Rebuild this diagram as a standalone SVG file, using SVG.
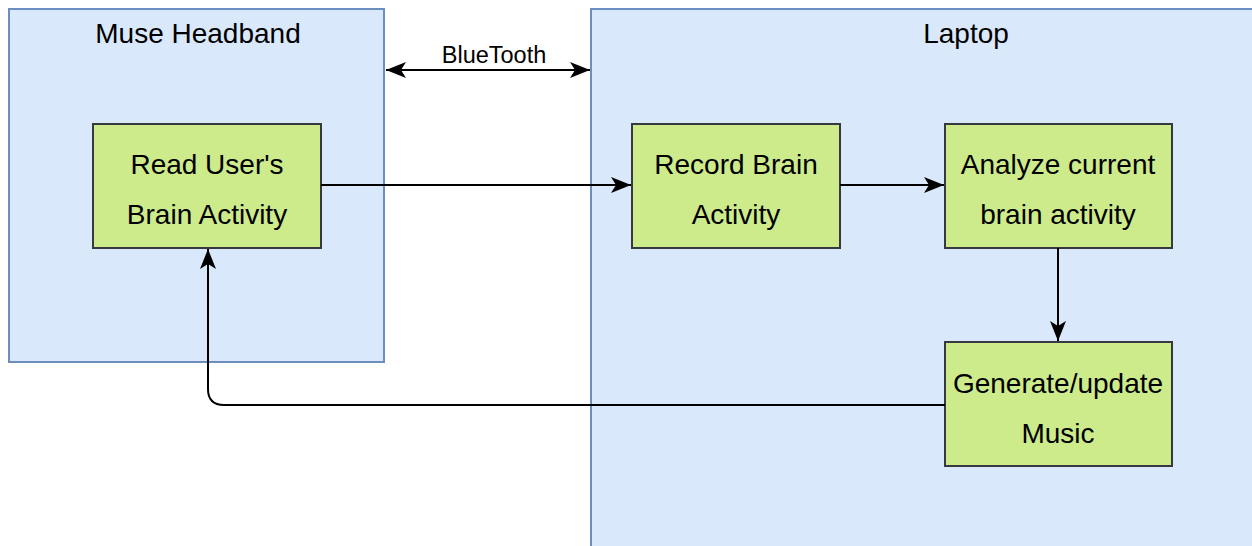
<svg xmlns="http://www.w3.org/2000/svg" width="1252" height="546" viewBox="0 0 1252 546">
<style>
.cont{fill:#dae8fc;stroke:#6c8ebf;stroke-width:2}
.node{fill:#cdeb8b;stroke:#36393d;stroke-width:2}
.t{font-family:"Liberation Sans",Arial,sans-serif;font-size:28px;fill:#000;text-anchor:middle}
.lbl{font-family:"Liberation Sans",Arial,sans-serif;font-size:23.5px;fill:#000;text-anchor:middle}
.e{fill:none;stroke:#000;stroke-width:2}
</style>
<defs>
<marker id="ah" viewBox="0 0 20 16" refX="20" refY="8" markerWidth="20" markerHeight="16" markerUnits="userSpaceOnUse" orient="auto-start-reverse">
<path d="M0,0 L20,8 L0,16 L5,8 Z" fill="#000"/>
</marker>
</defs>
<g id="muse">
<rect class="cont" x="9" y="9" width="375" height="353"/>
<text class="t" x="198" y="43">Muse Headband</text>
</g>
<g id="laptop">
<rect class="cont" x="591" y="9" width="760" height="560"/>
<text class="t" x="966" y="43">Laptop</text>
</g>
<g id="read">
<rect class="node" x="93" y="124" width="228" height="124"/>
<text class="t" x="207" y="174">Read User's</text>
<text class="t" x="207" y="224">Brain Activity</text>
</g>
<g id="record">
<rect class="node" x="632" y="124" width="208" height="124"/>
<text class="t" x="736" y="174">Record Brain</text>
<text class="t" x="736" y="224">Activity</text>
</g>
<g id="analyze">
<rect class="node" x="945" y="124" width="227" height="124"/>
<text class="t" x="1058" y="174">Analyze current</text>
<text class="t" x="1058" y="224">brain activity</text>
</g>
<g id="generate">
<rect class="node" x="945" y="342" width="227" height="124"/>
<text class="t" x="1058" y="393">Generate/update</text>
<text class="t" x="1058" y="443">Music</text>
</g>
<g id="connectors">
<path class="e" d="M386,70 L590,70" marker-start="url(#ah)" marker-end="url(#ah)"/>
<text class="lbl" x="494" y="63">BlueTooth</text>
<path class="e" d="M321,185 L631,185" marker-end="url(#ah)"/>
<path class="e" d="M840,185 L944,185" marker-end="url(#ah)"/>
<path class="e" d="M1058,248 L1058,341" marker-end="url(#ah)"/>
<path class="e" d="M945,405 L224,405 Q208,405 208,389 L208,249" marker-end="url(#ah)"/>
</g>
</svg>
